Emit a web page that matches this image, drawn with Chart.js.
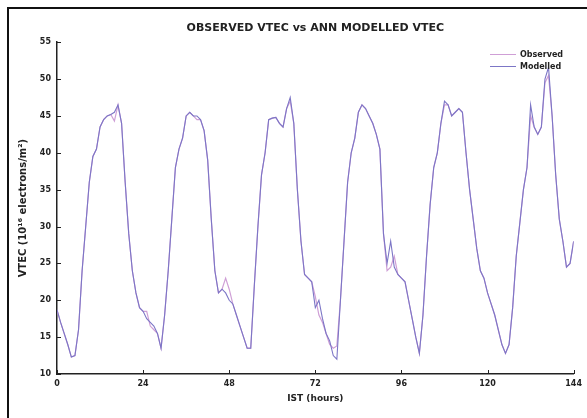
<!DOCTYPE html>
<html>
<head>
<meta charset="utf-8">
<script src="https://cdn.jsdelivr.net/npm/chart.js@4/dist/chart.umd.min.js"></script>
<style>
  html, body { margin: 0; padding: 0; background: #fff; }
  #wrap { position: relative; width: 587px; height: 418px; }
  #frame { position: absolute; left: 7px; top: 7px; width: 580px; height: 411px;
           border-left: 2px solid #111; border-top: 2px solid #111; box-sizing: border-box; pointer-events: none; }
  canvas { position: absolute; left: 0; top: 0; }
</style>
</head>
<body>
<div id="wrap">
  <canvas id="c" width="587" height="418"></canvas>
  <div id="frame"></div>
</div>
<script>
const titleText = 'OBSERVED VTEC vs ANN MODELLED VTEC';
const xTitle = 'IST (hours)';
const yTitle = 'VTEC (10¹⁶ electrons/m²)';
const seriesNames = ['Observed', 'Modelled'];
const xTicks = [0, 24, 48, 72, 96, 120, 144];
const yTicks = [10, 15, 20, 25, 30, 35, 40, 45, 50, 55];

const hours = [
  0,1,2,3,4,5,6,7,8,9,10,11,12,13,14,15,16,17,18,19,20,21,22,23,24,
  25,26,27,28,29,30,31,32,33,34,35,36,37,38,39,40,41,42,43,44,45,46,47,48,
  49,50,51,52,53,54,55,56,57,58,59,60,61,62,63,64,65,66,67,68,69,70,71,72,
  73,74,75,76,77,78,79,80,81,82,83,84,85,86,87,88,89,90,91,92,93,94,95,96,
  97,98,99,100,101,102,103,104,105,106,107,108,109,110,111,112,113,114,115,116,117,118,119,120,
  121,122,123,124,125,126,127,128,129,130,131,132,133,134,135,136,137,138,139,140,141,142,143,144
];

const observed = [
  18.7,17,15.5,14,12.3,12.5,16,24,30,36,39.5,40.5,43.5,44.5,45,45.2,44.3,46.5,44,36,29,24,21,19,18.5,
  18.5,16.5,16,15.5,13.5,18,24,31,38,40.5,42,45,45.5,45,44.5,44.5,43,39,31,24,21,21.5,23,21.5,
  19.5,18,16.5,15,13.5,13.5,22,30,37,40,44.5,44.7,44.8,44,43.5,46,47,44,35,28,23.5,23,22.5,20.5,
  18,17,15.5,14,13.5,13.8,20,28,36,40,42,45.5,46.5,46,45,44,42.5,40.5,29,24,24.5,26,23.5,23,
  22.5,20,17.5,15,12.8,18,26,33,38,40,44,46.5,46.5,45,45.5,46,45.5,40,35,31,27,24,23,21,
  19.5,18,16,14,12.8,14,19,26,30.5,35,38,45,43.5,42.5,43.5,49.5,50.5,45,37,31,28,24.5,25,28
];

const modelled = [
  18.7,17,15.5,14,12.3,12.5,16,24,30,36,39.5,40.5,43.5,44.5,45,45.2,45.5,46.5,44,36,29,24,21,19,18.5,
  17.5,17,16.5,15.5,13.5,18,24,31,38,40.5,42,45,45.5,45,45,44.5,43,39,31,24,21,21.5,21,20,
  19.5,18,16.5,15,13.5,13.5,22,30,37,40,44.5,44.7,44.8,44,43.5,46,47.5,44,35,28,23.5,23,22.5,19,
  20,17.5,15.5,14.5,12.5,12,20,28,36,40,42,45.5,46.5,46,45,44,42.5,40.5,29,25,28,24.5,23.5,23,
  22.5,20,17.5,15,12.8,18,26,33,38,40,44,47,46.5,45,45.5,46,45.5,40,35,31,27,24,23,21,
  19.5,18,16,14,12.8,14,19,26,30.5,35,38,46.5,43.5,42.5,43.5,50,51.6,45,37,31,28,24.5,25,28
];

const colObserved = '#cf9fd6';
const colModelled = '#7c76c6';
const FONT = '"DejaVu Sans", Verdana, sans-serif';

function pts(vals) { return hours.map((h, i) => ({ x: h, y: vals[i] })); }

const inwardTicks = {
  id: 'inwardTicks',
  afterDraw(chart) {
    const { ctx, chartArea, scales } = chart;
    ctx.save();
    ctx.strokeStyle = '#222';
    ctx.lineWidth = 1;
    ctx.beginPath();
    yTicks.forEach(v => {
      const y = Math.round(scales.y.getPixelForValue(v)) + 0.5;
      ctx.moveTo(chartArea.left, y); ctx.lineTo(chartArea.left + 4, y);
    });
    xTicks.forEach(v => {
      const x = Math.round(scales.x.getPixelForValue(v)) + 0.5;
      ctx.moveTo(x, chartArea.bottom); ctx.lineTo(x, chartArea.bottom - 4);
    });
    ctx.stroke();
    // legend
    const lx = 490, ly = [54, 66];
    chart.data.datasets.forEach((ds, i) => {
      ctx.strokeStyle = ds.borderColor;
      ctx.lineWidth = 1;
      ctx.beginPath();
      ctx.moveTo(lx, ly[i] + 0.5); ctx.lineTo(lx + 26, ly[i] + 0.5);
      ctx.stroke();
      ctx.fillStyle = '#222';
      ctx.font = 'bold 8px ' + FONT;
      ctx.textBaseline = 'middle';
      ctx.textAlign = 'left';
      ctx.fillText(ds.label, lx + 30, ly[i] + 0.5);
    });
    ctx.restore();
  }
};

new Chart(document.getElementById('c'), {
  type: 'line',
  data: {
    datasets: [
      { label: seriesNames[0], data: pts(observed), borderColor: colObserved, borderWidth: 1.2, pointRadius: 0, tension: 0, order: 2 },
      { label: seriesNames[1], data: pts(modelled), borderColor: colModelled, borderWidth: 1.1, pointRadius: 0, tension: 0, order: 1 }
    ]
  },
  options: {
    responsive: false,
    animation: false,
    layout: { padding: { left: 0, right: 13, top: 0, bottom: 0 } },
    plugins: {
      legend: { display: false },
      tooltip: { enabled: false },
      title: {
        display: true,
        fullSize: false,
        text: titleText,
        color: '#222',
        font: { family: FONT, size: 11, weight: 'bold' },
        padding: { top: 22, bottom: 7 },
        align: 'center'
      }
    },
    scales: {
      x: {
        type: 'linear',
        min: 0, max: 144,
        afterBuildTicks(scale) { scale.ticks = xTicks.map(v => ({ value: v })); },
        afterFit(scale) { scale.height = 44; },
        grid: { display: false, drawTicks: false },
        border: { display: true, color: '#222', width: 1.5 },
        ticks: {
          color: '#222', padding: 5, maxRotation: 0,
          font: { family: FONT, size: 8, weight: 'bold' }
        },
        title: {
          display: true, text: xTitle, color: '#222',
          font: { family: FONT, size: 9, weight: 'bold' },
          padding: { top: 0, bottom: 14 }
        }
      },
      y: {
        min: 10, max: 55,
        afterBuildTicks(scale) { scale.ticks = yTicks.map(v => ({ value: v })); },
        afterFit(scale) { scale.width = 57; },
        grid: { display: false, drawTicks: false },
        border: { display: true, color: '#222', width: 1.5 },
        ticks: {
          color: '#222', padding: 6,
          font: { family: FONT, size: 8, weight: 'bold' }
        },
        title: {
          display: true, text: yTitle, color: '#222',
          font: { family: FONT, size: 10, weight: 'bold' },
          padding: { top: 17, bottom: 0 }
        }
      }
    }
  },
  plugins: [inwardTicks]
});
</script>
</body>
</html>
